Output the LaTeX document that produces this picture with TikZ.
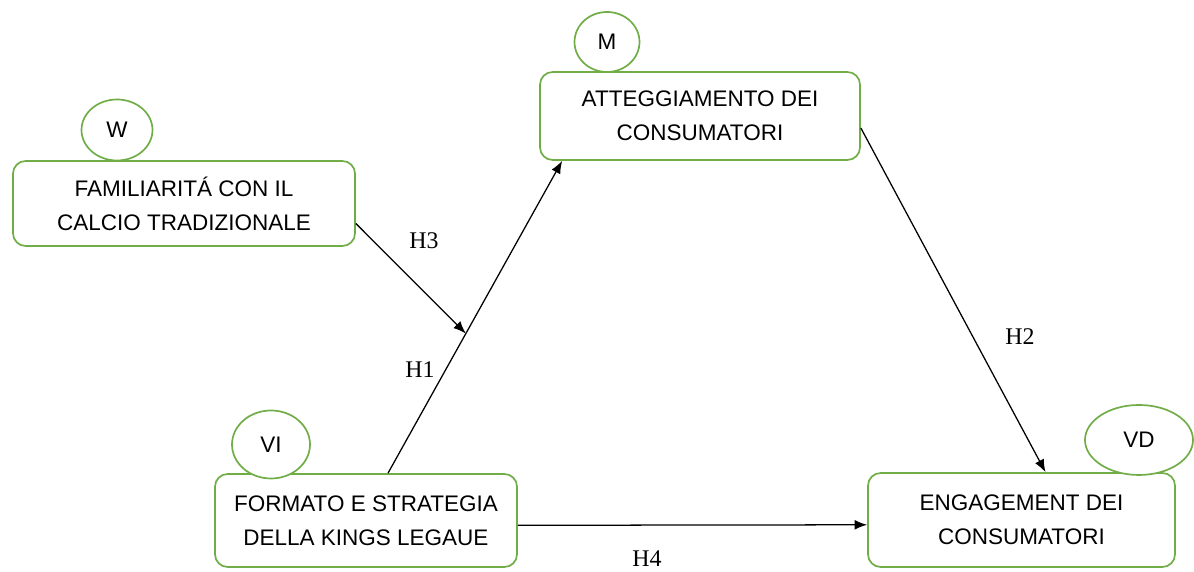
\documentclass[tikz,border=0pt]{standalone}
\usepackage{fontspec}
\setmainfont{Liberation Serif}
\newfontfamily\boxfont{Liberation Sans}
\usetikzlibrary{shapes.geometric,arrows.meta}
\definecolor{boxgreen}{RGB}{112,173,71}
\tikzset{
  varbox/.style={draw=boxgreen,line width=1.2pt,rounded corners=9pt,fill=white,
    align=center,font=\boxfont\fontsize{16}{24}\selectfont,inner sep=0pt},
  tag/.style={ellipse,draw=boxgreen,line width=1.2pt,fill=white,inner sep=0pt,
    font=\boxfont\fontsize{16}{18}\selectfont},
  hyp/.style={font=\fontsize{17}{19}\selectfont,inner sep=1pt}
}
\begin{document}
\begin{tikzpicture}[>={Latex[length=9pt,width=7pt]}]
\useasboundingbox (0,0) rectangle (29.85,14.3);
\node[varbox,minimum width=8.55cm,minimum height=2.125cm] (fam) at (4.6,9.2125) {FAMILIARITÁ CON IL\\CALCIO TRADIZIONALE};
\node[varbox,minimum width=8cm,minimum height=2.2cm] (att) at (17.5,11.4) {ATTEGGIAMENTO DEI\\CONSUMATORI};
\node[varbox,minimum width=7.55cm,minimum height=2.325cm] (fmt) at (9.15,1.2875) {FORMATO E STRATEGIA\\DELLA KINGS LEGAUE};
\node[varbox,minimum width=7.675cm,minimum height=2.35cm] (eng) at (25.5375,1.3) {ENGAGEMENT DEI\\CONSUMATORI};

\node[tag,minimum width=1.775cm,minimum height=1.525cm] (w) at (2.925,11.05) {W};
\node[tag,minimum width=1.625cm,minimum height=1.5cm] (m) at (15.175,13.25) {M};
\node[tag,minimum width=1.95cm,minimum height=1.7cm] (vi) at (6.775,3.1875) {VI};
\node[tag,minimum width=2.7cm,minimum height=1.75cm] (vd) at (28.475,3.3) {VD};

\draw[->,line width=0.9pt] ([xshift=0.55cm]fmt.north) -- coordinate[pos=0.447] (mod) ([xshift=0.575cm]att.south west);
\draw[->,line width=0.9pt] ([yshift=-0.5cm]fam.east) -- (mod);
\draw[->,line width=0.9pt] ([yshift=-0.3cm]att.east) -- ([xshift=0.6cm]eng.north);
\draw[->,line width=0.9pt] ([yshift=-0.12cm]fmt.east) -- ([yshift=-0.12cm]eng.west);

\node[hyp] (h3) at (10.6,8.275) {H3};
\node[hyp] (h1) at (10.5,5.05) {H1};
\node[hyp] (h2) at (25.5,5.875) {H2};
\node[hyp] (h4) at (16.175,0.33) {H4};
\end{tikzpicture}
\end{document}
